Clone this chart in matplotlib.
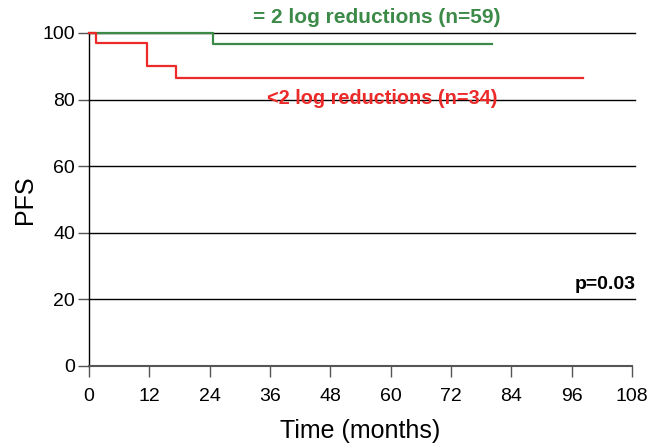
import matplotlib
matplotlib.use('Agg')
from matplotlib import pyplot as plt

plt.rcParams['font.family'] = ['Liberation Sans', 'DejaVu Sans']

# Kaplan-Meier step data
green_t = [0, 24.6, 80.2]
green_s = [100, 96.8, 96.8]
red_t = [0, 1.35, 11.5, 17.3, 98.2]
red_s = [100, 97.1, 90.2, 86.4, 86.4]

x_ticks = [0, 12, 24, 36, 48, 60, 72, 84, 96, 108]
y_ticks = [0, 20, 40, 60, 80, 100]
grid_levels = [20, 40, 60, 80, 100]

green_label = '= 2 log reductions (n=59)'
red_label = '<2 log reductions (n=34)'
p_label = 'p=0.03'

fig = plt.figure(figsize=(6.66, 4.44), dpi=100)
ax = fig.add_axes([0.1336, 0.1757, 0.8154, 0.75])

for lvl in grid_levels:
    ax.plot([0, 108.5], [lvl, lvl], color='black', lw=1.0, zorder=1, clip_on=False)

ax.step(green_t, green_s, where='post', color='#3c8a48', lw=1.6, zorder=3, clip_on=False)
ax.step(red_t, red_s, where='post', color='#ec2a2a', lw=1.6, zorder=3, clip_on=False)

ax.text(57.3, 104.8, green_label, color='#3c8a48', fontsize=15,
        fontweight='bold', ha='center', va='center', zorder=4)
ax.text(58.3, 80.4, red_label, color='#ec2a2a', fontsize=14.3,
        fontweight='bold', ha='center', va='center', zorder=4)
ax.text(108.7, 21.8, p_label, color='black', fontsize=14,
        fontweight='bold', ha='right', va='bottom', zorder=4)

ax.set_xlim(0, 108)
ax.set_ylim(0, 100)
ax.set_xticks(x_ticks)
ax.set_yticks(y_ticks)
ax.tick_params(axis='both', labelsize=14, length=8, width=1, color='#555555', direction='out')
ax.tick_params(axis='y', pad=2)
ax.tick_params(axis='x', pad=8)

for s in ['top', 'right']:
    ax.spines[s].set_visible(False)
ax.spines['left'].set_color('black')
ax.spines['left'].set_linewidth(1.0)
ax.spines['bottom'].set_color('#555555')
ax.spines['bottom'].set_linewidth(1.5)
ax.spines['left'].set_bounds(0, 100)

ax.set_xlabel('Time (months)', fontsize=18, labelpad=10)
ax.set_ylabel('PFS', fontsize=18, labelpad=4)

fig.savefig('out.png', dpi=100)
